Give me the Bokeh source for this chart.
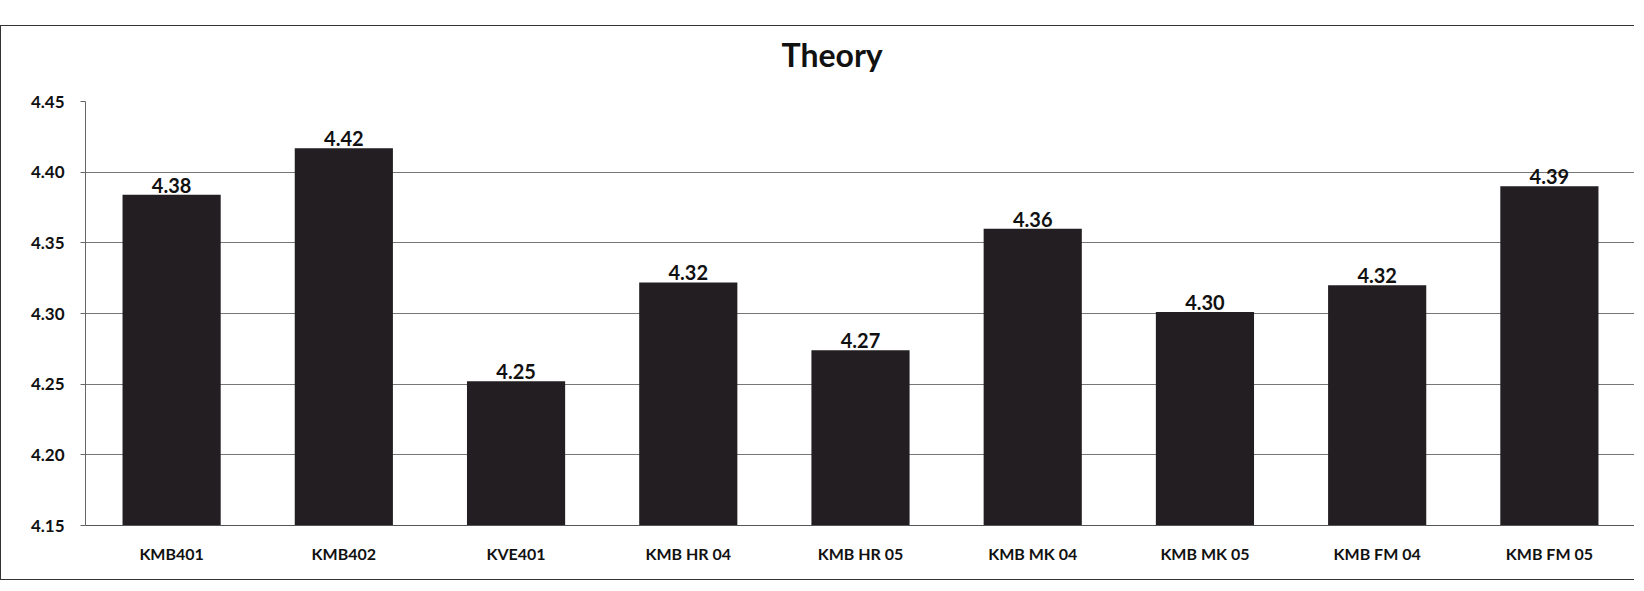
from bokeh.plotting import figure
from bokeh.models import ColumnDataSource, FixedTicker, NumeralTickFormatter, Range1d, Title
from bokeh.core.properties import value
from bokeh.embed import file_html
from bokeh.resources import INLINE

categories = ["KMB401", "KMB402", "KVE401", "KMB HR 04", "KMB HR 05",
              "KMB MK 04", "KMB MK 05", "KMB FM 04", "KMB FM 05"]
scores = [4.384, 4.417, 4.252, 4.322, 4.274, 4.360, 4.301, 4.320, 4.390]
y_ticks = [4.15, 4.20, 4.25, 4.30, 4.35, 4.40, 4.45]
title_text = "Theory"

FONT = "Lato"

src = ColumnDataSource(dict(cat=categories, val=scores,
                            lab=[f"{v:.2f}" for v in scores]))

p = figure(x_range=categories, y_range=Range1d(y_ticks[0], y_ticks[-1]),
           width=1634, height=555, output_backend="svg", toolbar_location=None,
           min_border_left=84, min_border_right=0, min_border_top=75,
           min_border_bottom=56)

p.margin = (25, 0, 0, 0)
p.styles = {"border-top": "1.5px solid #333", "border-left": "1.5px solid #333",
            "border-bottom": "1.5px solid #333"}

p.vbar(x="cat", top="val", bottom=y_ticks[0], width=0.57, source=src,
       fill_color="#221e22", line_color=None)

p.text(x="cat", y="val", text="lab", source=src, text_align="center",
       text_baseline="bottom", y_offset=-2, text_font=value(FONT),
       text_font_style="bold", text_font_size="20px", text_color="#111111")

# spacer between the frame and the title
p.add_layout(Title(text=" ", text_font_size="10px"), "above")
p.add_layout(Title(text=title_text, align="left", offset=696,
                   text_font=FONT, text_font_size="32px",
                   text_font_style="bold", text_color="#111111"), "above")

p.yaxis.ticker = FixedTicker(ticks=y_ticks)
p.yaxis.formatter = NumeralTickFormatter(format="0.00")
p.yaxis.axis_line_color = "#666666"
p.yaxis.major_tick_line_color = "#666666"
p.yaxis.major_tick_out = 5
p.yaxis.major_tick_in = 0
p.yaxis.minor_tick_line_color = None
p.yaxis.major_label_standoff = 16
p.yaxis.major_label_text_font = FONT
p.yaxis.major_label_text_font_style = "bold"
p.yaxis.major_label_text_font_size = "17px"
p.yaxis.major_label_text_color = "#111111"

p.xaxis.axis_line_color = "#555555"
p.xaxis.major_tick_line_color = None
p.xaxis.minor_tick_line_color = None
p.xaxis.major_label_standoff = 12
p.xaxis.major_label_text_font = FONT
p.xaxis.major_label_text_font_style = "bold"
p.xaxis.major_label_text_font_size = "16px"
p.xaxis.major_label_text_color = "#111111"

p.xgrid.visible = False
p.ygrid.ticker = FixedTicker(ticks=y_ticks)
p.ygrid.grid_line_color = "#777777"
p.ygrid.grid_line_width = 1

p.outline_line_color = None
p.background_fill_color = "white"
p.border_fill_color = "white"

open("out.html", "w").write(file_html(p, INLINE))
